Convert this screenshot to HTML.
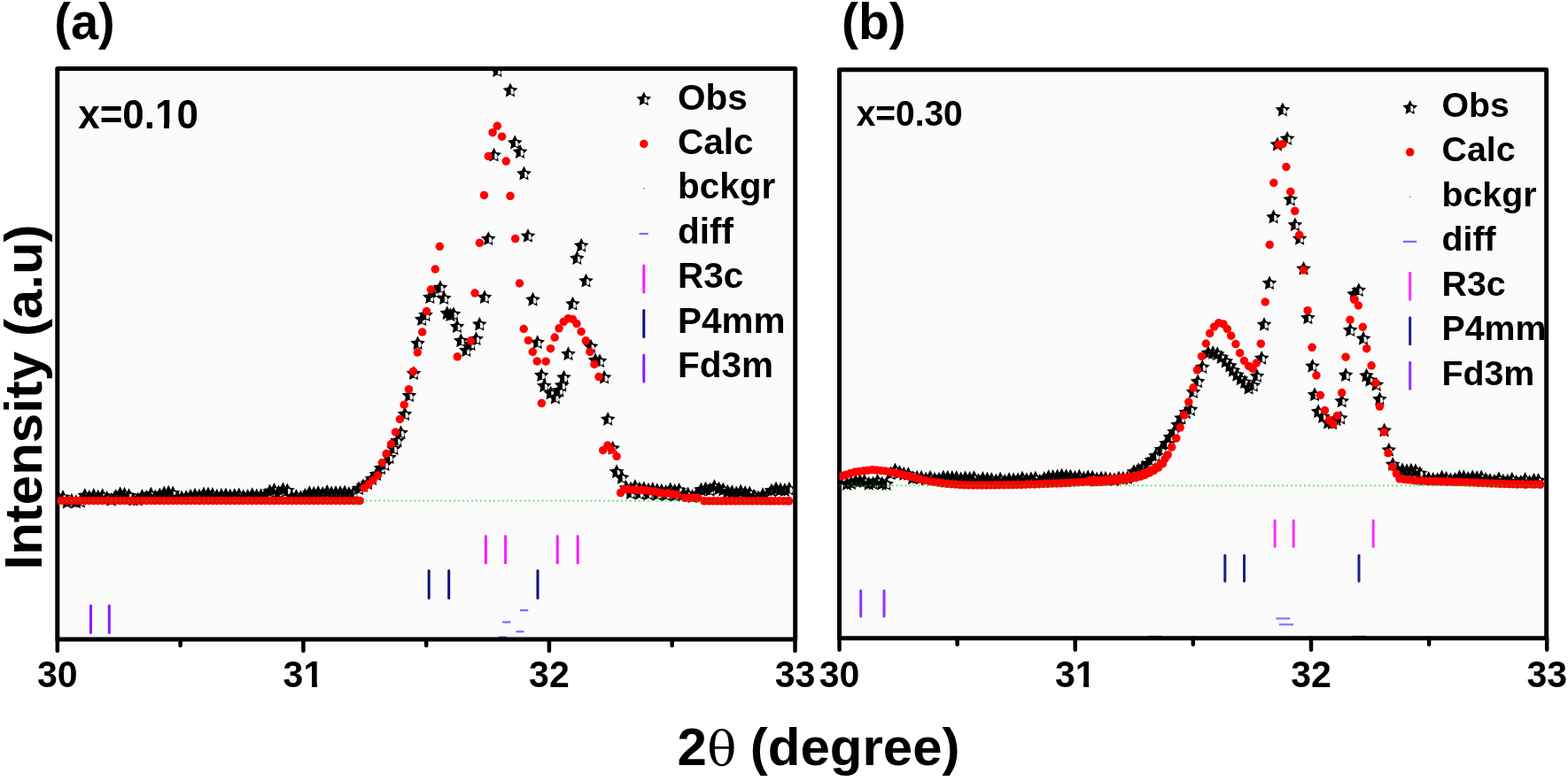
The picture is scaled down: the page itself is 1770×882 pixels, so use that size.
<!DOCTYPE html>
<html><head><meta charset="utf-8"><title>XRD refinement</title>
<style>html,body{margin:0;padding:0;background:#fff;} body{width:1770px;height:882px;overflow:hidden;} svg{display:block;}</style>
</head><body>
<svg width="1770" height="882" viewBox="0 0 1770 882">
<defs>
<path id="st" d="M0.00,-8.80 L2.59,-3.56 L8.37,-2.72 L4.18,1.36 L5.17,7.12 L0.00,4.40 L-5.17,7.12 L-4.18,1.36 L-8.37,-2.72 L-2.59,-3.56Z"/>
<path id="sl" d="M0.5,-2.3 L2.9,-2.1 L4.2,1.0 L3.3,4.4 L0.7,3.9 Z"/>
<g id="sh"><use href="#st" fill="#000"/><use href="#sl" fill="#fff" opacity="0.9"/></g>
</defs>
<rect width="1770" height="882" fill="#fff"/>
<rect x="64.8" y="77.6" width="832.9000000000001" height="644.4" fill="#fbfbfb"/>
<clipPath id="cai"><rect x="67.3" y="80.1" width="827.9000000000001" height="639.4"/></clipPath>
<clipPath id="cac"><rect x="64.8" y="77.6" width="832.9000000000001" height="644.4"/></clipPath>
<g clip-path="url(#cai)">
<use href="#sh" x="66.0" y="562.4"/>
<use href="#sh" x="71.0" y="561.7"/>
<use href="#sh" x="75.9" y="567.4"/>
<use href="#sh" x="80.9" y="565.5"/>
<use href="#sh" x="85.9" y="567.1"/>
<use href="#sh" x="90.8" y="566.5"/>
<use href="#sh" x="95.8" y="559.9"/>
<use href="#sh" x="100.8" y="561.5"/>
<use href="#sh" x="105.8" y="559.8"/>
<use href="#sh" x="110.7" y="561.3"/>
<use href="#sh" x="115.7" y="560.0"/>
<use href="#sh" x="120.7" y="562.9"/>
<use href="#sh" x="125.6" y="564.7"/>
<use href="#sh" x="130.6" y="560.7"/>
<use href="#sh" x="135.6" y="558.1"/>
<use href="#sh" x="140.5" y="558.5"/>
<use href="#sh" x="145.5" y="560.0"/>
<use href="#sh" x="150.5" y="564.5"/>
<use href="#sh" x="155.5" y="564.3"/>
<use href="#sh" x="160.4" y="560.8"/>
<use href="#sh" x="165.4" y="561.7"/>
<use href="#sh" x="170.4" y="558.4"/>
<use href="#sh" x="175.3" y="561.3"/>
<use href="#sh" x="180.3" y="559.2"/>
<use href="#sh" x="185.3" y="557.4"/>
<use href="#sh" x="190.2" y="556.6"/>
<use href="#sh" x="195.2" y="557.3"/>
<use href="#sh" x="200.2" y="562.4"/>
<use href="#sh" x="205.2" y="562.4"/>
<use href="#sh" x="210.1" y="561.8"/>
<use href="#sh" x="215.1" y="560.5"/>
<use href="#sh" x="220.1" y="559.5"/>
<use href="#sh" x="225.0" y="560.2"/>
<use href="#sh" x="230.0" y="558.4"/>
<use href="#sh" x="235.0" y="558.4"/>
<use href="#sh" x="239.9" y="558.9"/>
<use href="#sh" x="244.9" y="560.6"/>
<use href="#sh" x="249.9" y="559.7"/>
<use href="#sh" x="254.9" y="559.3"/>
<use href="#sh" x="259.8" y="560.3"/>
<use href="#sh" x="264.8" y="559.8"/>
<use href="#sh" x="269.8" y="559.3"/>
<use href="#sh" x="274.7" y="561.1"/>
<use href="#sh" x="279.7" y="560.7"/>
<use href="#sh" x="284.7" y="559.1"/>
<use href="#sh" x="289.7" y="560.3"/>
<use href="#sh" x="294.6" y="560.1"/>
<use href="#sh" x="299.6" y="559.2"/>
<use href="#sh" x="304.6" y="555.3"/>
<use href="#sh" x="309.5" y="553.7"/>
<use href="#sh" x="314.5" y="556.2"/>
<use href="#sh" x="319.5" y="553.1"/>
<use href="#sh" x="324.4" y="554.2"/>
<use href="#sh" x="329.4" y="561.5"/>
<use href="#sh" x="334.4" y="560.7"/>
<use href="#sh" x="339.4" y="562.0"/>
<use href="#sh" x="344.3" y="559.8"/>
<use href="#sh" x="349.3" y="557.1"/>
<use href="#sh" x="354.3" y="557.5"/>
<use href="#sh" x="359.2" y="556.8"/>
<use href="#sh" x="364.2" y="557.9"/>
<use href="#sh" x="369.2" y="555.8"/>
<use href="#sh" x="374.1" y="557.2"/>
<use href="#sh" x="379.1" y="556.8"/>
<use href="#sh" x="384.1" y="556.8"/>
<use href="#sh" x="389.1" y="556.3"/>
<use href="#sh" x="394.0" y="557.7"/>
<use href="#sh" x="399.0" y="556.7"/>
<use href="#sh" x="405.0" y="552.0"/>
<use href="#sh" x="410.0" y="549.0"/>
<use href="#sh" x="415.0" y="546.0"/>
<use href="#sh" x="420.0" y="541.0"/>
<use href="#sh" x="425.0" y="536.0"/>
<use href="#sh" x="430.0" y="529.0"/>
<use href="#sh" x="434.5" y="525.0"/>
<use href="#sh" x="439.5" y="517.0"/>
<use href="#sh" x="444.5" y="507.0"/>
<use href="#sh" x="448.5" y="498.0"/>
<use href="#sh" x="452.5" y="489.0"/>
<use href="#sh" x="457.0" y="468.0"/>
<use href="#sh" x="462.0" y="447.0"/>
<use href="#sh" x="467.0" y="422.0"/>
<use href="#sh" x="471.6" y="388.0"/>
<use href="#sh" x="476.2" y="361.0"/>
<use href="#sh" x="480.5" y="356.0"/>
<use href="#sh" x="485.4" y="336.0"/>
<use href="#sh" x="491.0" y="330.0"/>
<use href="#sh" x="497.0" y="325.0"/>
<use href="#sh" x="501.2" y="337.0"/>
<use href="#sh" x="504.8" y="354.0"/>
<use href="#sh" x="508.5" y="356.0"/>
<use href="#sh" x="512.0" y="355.0"/>
<use href="#sh" x="516.0" y="369.0"/>
<use href="#sh" x="520.3" y="385.0"/>
<use href="#sh" x="526.4" y="396.0"/>
<use href="#sh" x="531.5" y="389.0"/>
<use href="#sh" x="537.5" y="383.0"/>
<use href="#sh" x="541.3" y="366.5"/>
<use href="#sh" x="547.0" y="336.0"/>
<use href="#sh" x="551.3" y="270.0"/>
<use href="#sh" x="557.6" y="175.5"/>
<use href="#sh" x="561.3" y="80.0"/>
<use href="#sh" x="576.0" y="102.4"/>
<use href="#sh" x="581.2" y="161.4"/>
<use href="#sh" x="587.1" y="171.8"/>
<use href="#sh" x="591.5" y="196.4"/>
<use href="#sh" x="596.0" y="266.7"/>
<use href="#sh" x="601.5" y="338.6"/>
<use href="#sh" x="606.7" y="387.0"/>
<use href="#sh" x="611.3" y="424.0"/>
<use href="#sh" x="614.3" y="436.0"/>
<use href="#sh" x="621.7" y="444.2"/>
<use href="#sh" x="626.9" y="449.4"/>
<use href="#sh" x="631.3" y="441.3"/>
<use href="#sh" x="634.2" y="435.4"/>
<use href="#sh" x="636.5" y="426.5"/>
<use href="#sh" x="641.5" y="400.0"/>
<use href="#sh" x="646.5" y="343.5"/>
<use href="#sh" x="651.4" y="291.9"/>
<use href="#sh" x="656.2" y="277.6"/>
<use href="#sh" x="661.5" y="317.5"/>
<use href="#sh" x="667.0" y="391.6"/>
<use href="#sh" x="672.0" y="407.0"/>
<use href="#sh" x="677.0" y="408.0"/>
<use href="#sh" x="682.1" y="426.5"/>
<use href="#sh" x="686.2" y="473.7"/>
<use href="#sh" x="691.7" y="506.5"/>
<use href="#sh" x="696.1" y="533.0"/>
<use href="#sh" x="702.0" y="539.6"/>
<use href="#sh" x="707.0" y="551.4"/>
<use href="#sh" x="712.0" y="552.2"/>
<use href="#sh" x="716.9" y="549.7"/>
<use href="#sh" x="721.9" y="552.3"/>
<use href="#sh" x="726.9" y="552.1"/>
<use href="#sh" x="731.9" y="553.5"/>
<use href="#sh" x="736.8" y="552.8"/>
<use href="#sh" x="741.8" y="554.0"/>
<use href="#sh" x="746.8" y="554.5"/>
<use href="#sh" x="751.7" y="555.7"/>
<use href="#sh" x="756.7" y="553.1"/>
<use href="#sh" x="761.7" y="554.8"/>
<use href="#sh" x="766.6" y="553.7"/>
<use href="#sh" x="771.6" y="558.5"/>
<use href="#sh" x="776.6" y="558.2"/>
<use href="#sh" x="781.6" y="561.1"/>
<use href="#sh" x="786.5" y="558.5"/>
<use href="#sh" x="791.5" y="553.3"/>
<use href="#sh" x="796.5" y="552.4"/>
<use href="#sh" x="801.4" y="553.6"/>
<use href="#sh" x="806.4" y="549.9"/>
<use href="#sh" x="811.4" y="552.2"/>
<use href="#sh" x="816.3" y="553.3"/>
<use href="#sh" x="821.3" y="555.5"/>
<use href="#sh" x="826.3" y="556.0"/>
<use href="#sh" x="831.3" y="557.0"/>
<use href="#sh" x="836.2" y="555.4"/>
<use href="#sh" x="841.2" y="556.8"/>
<use href="#sh" x="846.2" y="557.3"/>
<use href="#sh" x="851.1" y="560.6"/>
<use href="#sh" x="856.1" y="562.3"/>
<use href="#sh" x="861.1" y="559.1"/>
<use href="#sh" x="866.0" y="559.2"/>
<use href="#sh" x="871.0" y="554.2"/>
<use href="#sh" x="876.0" y="552.4"/>
<use href="#sh" x="881.0" y="553.4"/>
<use href="#sh" x="885.9" y="553.9"/>
<use href="#sh" x="890.9" y="552.6"/>
<use href="#sh" x="712.0" y="557.0"/>
<use href="#sh" x="722.0" y="557.5"/>
<use href="#sh" x="732.0" y="558.0"/>
<use href="#sh" x="742.0" y="558.5"/>
<use href="#sh" x="752.0" y="559.0"/>
<use href="#sh" x="762.0" y="559.5"/>
</g>
<line x1="548.4" y1="605.5" x2="548.4" y2="635.7" stroke="#ff19ff" stroke-width="3" stroke-linecap="round"/>
<line x1="570.6" y1="605.5" x2="570.6" y2="635.7" stroke="#ff19ff" stroke-width="3" stroke-linecap="round"/>
<line x1="629.2" y1="605.5" x2="629.2" y2="635.7" stroke="#ff19ff" stroke-width="3" stroke-linecap="round"/>
<line x1="652.2" y1="605.5" x2="652.2" y2="635.7" stroke="#ff19ff" stroke-width="3" stroke-linecap="round"/>
<line x1="484.2" y1="644.6" x2="484.2" y2="675.5" stroke="#10107f" stroke-width="3" stroke-linecap="round"/>
<line x1="506.7" y1="644.6" x2="506.7" y2="675.5" stroke="#10107f" stroke-width="3" stroke-linecap="round"/>
<line x1="607" y1="644.6" x2="607" y2="675.5" stroke="#10107f" stroke-width="3" stroke-linecap="round"/>
<line x1="102.5" y1="684" x2="102.5" y2="714.5" stroke="#8a1aff" stroke-width="3" stroke-linecap="round"/>
<line x1="123.3" y1="684" x2="123.3" y2="714.5" stroke="#8a1aff" stroke-width="3" stroke-linecap="round"/>
<line x1="587.1" y1="689.2" x2="596.3" y2="689.2" stroke="#6f6fff" stroke-width="2.2"/>
<line x1="567.2" y1="702.6" x2="576.4" y2="702.6" stroke="#6f6fff" stroke-width="2.2"/>
<line x1="582.5" y1="713.3" x2="591.7" y2="713.3" stroke="#6f6fff" stroke-width="2.2"/>
<line x1="562.6" y1="719.5" x2="571.8" y2="719.5" stroke="#6f6fff" stroke-width="2.2"/>
<rect x="64.8" y="77.6" width="832.9000000000001" height="644.4" fill="none" stroke="#000" stroke-width="5" stroke-linejoin="round"/>
<g clip-path="url(#cac)">
<g fill="#ff0000">
<circle cx="66.0" cy="565.5" r="4.75"/>
<circle cx="71.0" cy="565.5" r="4.75"/>
<circle cx="75.9" cy="565.5" r="4.75"/>
<circle cx="80.9" cy="565.5" r="4.75"/>
<circle cx="85.9" cy="565.5" r="4.75"/>
<circle cx="90.8" cy="565.5" r="4.75"/>
<circle cx="95.8" cy="565.5" r="4.75"/>
<circle cx="100.8" cy="565.5" r="4.75"/>
<circle cx="105.8" cy="565.5" r="4.75"/>
<circle cx="110.7" cy="565.5" r="4.75"/>
<circle cx="115.7" cy="565.5" r="4.75"/>
<circle cx="120.7" cy="565.5" r="4.75"/>
<circle cx="125.6" cy="565.5" r="4.75"/>
<circle cx="130.6" cy="565.5" r="4.75"/>
<circle cx="135.6" cy="565.5" r="4.75"/>
<circle cx="140.5" cy="565.5" r="4.75"/>
<circle cx="145.5" cy="565.5" r="4.75"/>
<circle cx="150.5" cy="565.5" r="4.75"/>
<circle cx="155.5" cy="565.5" r="4.75"/>
<circle cx="160.4" cy="565.5" r="4.75"/>
<circle cx="165.4" cy="565.5" r="4.75"/>
<circle cx="170.4" cy="565.5" r="4.75"/>
<circle cx="175.3" cy="565.5" r="4.75"/>
<circle cx="180.3" cy="565.5" r="4.75"/>
<circle cx="185.3" cy="565.5" r="4.75"/>
<circle cx="190.2" cy="565.5" r="4.75"/>
<circle cx="195.2" cy="565.5" r="4.75"/>
<circle cx="200.2" cy="565.5" r="4.75"/>
<circle cx="205.2" cy="565.5" r="4.75"/>
<circle cx="210.1" cy="565.5" r="4.75"/>
<circle cx="215.1" cy="565.5" r="4.75"/>
<circle cx="220.1" cy="565.5" r="4.75"/>
<circle cx="225.0" cy="565.5" r="4.75"/>
<circle cx="230.0" cy="565.5" r="4.75"/>
<circle cx="235.0" cy="565.5" r="4.75"/>
<circle cx="239.9" cy="565.5" r="4.75"/>
<circle cx="244.9" cy="565.5" r="4.75"/>
<circle cx="249.9" cy="565.5" r="4.75"/>
<circle cx="254.9" cy="565.5" r="4.75"/>
<circle cx="259.8" cy="565.5" r="4.75"/>
<circle cx="264.8" cy="565.5" r="4.75"/>
<circle cx="269.8" cy="565.5" r="4.75"/>
<circle cx="274.7" cy="565.5" r="4.75"/>
<circle cx="279.7" cy="565.5" r="4.75"/>
<circle cx="284.7" cy="565.5" r="4.75"/>
<circle cx="289.7" cy="565.5" r="4.75"/>
<circle cx="294.6" cy="565.5" r="4.75"/>
<circle cx="299.6" cy="565.5" r="4.75"/>
<circle cx="304.6" cy="565.5" r="4.75"/>
<circle cx="309.5" cy="565.5" r="4.75"/>
<circle cx="314.5" cy="565.5" r="4.75"/>
<circle cx="319.5" cy="565.5" r="4.75"/>
<circle cx="324.4" cy="565.5" r="4.75"/>
<circle cx="329.4" cy="565.5" r="4.75"/>
<circle cx="334.4" cy="565.5" r="4.75"/>
<circle cx="339.4" cy="565.5" r="4.75"/>
<circle cx="344.3" cy="565.5" r="4.75"/>
<circle cx="349.3" cy="565.5" r="4.75"/>
<circle cx="354.3" cy="565.5" r="4.75"/>
<circle cx="359.2" cy="565.5" r="4.75"/>
<circle cx="364.2" cy="565.5" r="4.75"/>
<circle cx="369.2" cy="565.5" r="4.75"/>
<circle cx="374.1" cy="565.5" r="4.75"/>
<circle cx="379.1" cy="565.5" r="4.75"/>
<circle cx="384.1" cy="565.5" r="4.75"/>
<circle cx="389.1" cy="565.5" r="4.75"/>
<circle cx="394.0" cy="565.5" r="4.75"/>
<circle cx="399.0" cy="565.5" r="4.75"/>
<circle cx="404.0" cy="565.5" r="4.75"/>
<circle cx="406.3" cy="565.5" r="4.75"/>
<circle cx="411.0" cy="551.0" r="4.75"/>
<circle cx="416.0" cy="547.0" r="4.75"/>
<circle cx="421.0" cy="542.5" r="4.75"/>
<circle cx="426.3" cy="537.0" r="4.75"/>
<circle cx="431.4" cy="522.4" r="4.75"/>
<circle cx="436.2" cy="512.3" r="4.75"/>
<circle cx="441.5" cy="501.5" r="4.75"/>
<circle cx="446.5" cy="488.0" r="4.75"/>
<circle cx="451.4" cy="473.4" r="4.75"/>
<circle cx="456.2" cy="457.2" r="4.75"/>
<circle cx="461.5" cy="439.7" r="4.75"/>
<circle cx="466.5" cy="419.4" r="4.75"/>
<circle cx="471.3" cy="398.0" r="4.75"/>
<circle cx="476.7" cy="375.0" r="4.75"/>
<circle cx="481.5" cy="351.5" r="4.75"/>
<circle cx="486.4" cy="327.0" r="4.75"/>
<circle cx="491.3" cy="304.0" r="4.75"/>
<circle cx="496.3" cy="278.3" r="4.75"/>
<circle cx="516.3" cy="402.8" r="4.75"/>
<circle cx="531.4" cy="385.0" r="4.75"/>
<circle cx="536.1" cy="331.0" r="4.75"/>
<circle cx="541.4" cy="274.3" r="4.75"/>
<circle cx="546.5" cy="220.5" r="4.75"/>
<circle cx="551.3" cy="176.5" r="4.75"/>
<circle cx="556.1" cy="149.7" r="4.75"/>
<circle cx="561.3" cy="142.3" r="4.75"/>
<circle cx="566.6" cy="154.2" r="4.75"/>
<circle cx="571.3" cy="182.1" r="4.75"/>
<circle cx="576.0" cy="221.3" r="4.75"/>
<circle cx="581.7" cy="269.6" r="4.75"/>
<circle cx="586.5" cy="320.0" r="4.75"/>
<circle cx="591.2" cy="371.5" r="4.75"/>
<circle cx="596.4" cy="384.4" r="4.75"/>
<circle cx="601.3" cy="397.3" r="4.75"/>
<circle cx="606.3" cy="408.0" r="4.75"/>
<circle cx="611.4" cy="455.3" r="4.75"/>
<circle cx="616.2" cy="408.2" r="4.75"/>
<circle cx="621.5" cy="393.7" r="4.75"/>
<circle cx="626.2" cy="381.1" r="4.75"/>
<circle cx="631.0" cy="370.8" r="4.75"/>
<circle cx="636.2" cy="363.4" r="4.75"/>
<circle cx="641.4" cy="359.7" r="4.75"/>
<circle cx="646.5" cy="360.5" r="4.75"/>
<circle cx="651.0" cy="365.6" r="4.75"/>
<circle cx="656.1" cy="374.5" r="4.75"/>
<circle cx="661.3" cy="384.8" r="4.75"/>
<circle cx="666.0" cy="397.3" r="4.75"/>
<circle cx="670.9" cy="411.4" r="4.75"/>
<circle cx="676.0" cy="425.6" r="4.75"/>
<circle cx="680.7" cy="508.5" r="4.75"/>
<circle cx="685.9" cy="503.0" r="4.75"/>
<circle cx="690.2" cy="508.0" r="4.75"/>
<circle cx="696.1" cy="515.3" r="4.75"/>
<circle cx="700.6" cy="556.6" r="4.75"/>
<circle cx="704.5" cy="552.6" r="4.75"/>
<circle cx="709.5" cy="552.3" r="4.75"/>
<circle cx="714.4" cy="553.2" r="4.75"/>
<circle cx="719.4" cy="553.4" r="4.75"/>
<circle cx="724.4" cy="553.4" r="4.75"/>
<circle cx="729.4" cy="553.8" r="4.75"/>
<circle cx="734.3" cy="554.7" r="4.75"/>
<circle cx="739.3" cy="555.1" r="4.75"/>
<circle cx="744.3" cy="556.3" r="4.75"/>
<circle cx="749.2" cy="557.2" r="4.75"/>
<circle cx="754.2" cy="556.8" r="4.75"/>
<circle cx="759.2" cy="558.1" r="4.75"/>
<circle cx="764.1" cy="558.6" r="4.75"/>
<circle cx="773.0" cy="562.3" r="4.75"/>
<circle cx="778.0" cy="562.3" r="4.75"/>
<circle cx="782.9" cy="562.3" r="4.75"/>
<circle cx="787.9" cy="562.3" r="4.75"/>
<circle cx="795.0" cy="565.8" r="4.75"/>
<circle cx="800.0" cy="565.8" r="4.75"/>
<circle cx="804.9" cy="565.8" r="4.75"/>
<circle cx="809.9" cy="565.8" r="4.75"/>
<circle cx="814.9" cy="565.8" r="4.75"/>
<circle cx="819.9" cy="565.8" r="4.75"/>
<circle cx="824.8" cy="565.8" r="4.75"/>
<circle cx="829.8" cy="565.8" r="4.75"/>
<circle cx="834.8" cy="565.8" r="4.75"/>
<circle cx="839.7" cy="565.8" r="4.75"/>
<circle cx="844.7" cy="565.8" r="4.75"/>
<circle cx="849.7" cy="565.8" r="4.75"/>
<circle cx="854.6" cy="565.8" r="4.75"/>
<circle cx="859.6" cy="565.8" r="4.75"/>
<circle cx="864.6" cy="565.8" r="4.75"/>
<circle cx="869.6" cy="565.8" r="4.75"/>
<circle cx="874.5" cy="565.8" r="4.75"/>
<circle cx="879.5" cy="565.8" r="4.75"/>
<circle cx="884.5" cy="565.8" r="4.75"/>
<circle cx="889.4" cy="565.8" r="4.75"/>
<circle cx="890.6" cy="565.8" r="4.75"/>
</g>
<g fill="#00c800" fill-opacity="0.55">
<circle cx="65.8" cy="565.6" r="1.15"/>
<circle cx="70.8" cy="565.6" r="1.15"/>
<circle cx="75.7" cy="565.6" r="1.15"/>
<circle cx="80.7" cy="565.6" r="1.15"/>
<circle cx="85.7" cy="565.6" r="1.15"/>
<circle cx="90.6" cy="565.6" r="1.15"/>
<circle cx="95.6" cy="565.6" r="1.15"/>
<circle cx="100.6" cy="565.6" r="1.15"/>
<circle cx="105.6" cy="565.6" r="1.15"/>
<circle cx="110.5" cy="565.6" r="1.15"/>
<circle cx="115.5" cy="565.6" r="1.15"/>
<circle cx="120.5" cy="565.6" r="1.15"/>
<circle cx="125.4" cy="565.6" r="1.15"/>
<circle cx="130.4" cy="565.6" r="1.15"/>
<circle cx="135.4" cy="565.6" r="1.15"/>
<circle cx="140.3" cy="565.6" r="1.15"/>
<circle cx="145.3" cy="565.6" r="1.15"/>
<circle cx="150.3" cy="565.6" r="1.15"/>
<circle cx="155.3" cy="565.6" r="1.15"/>
<circle cx="160.2" cy="565.6" r="1.15"/>
<circle cx="165.2" cy="565.6" r="1.15"/>
<circle cx="170.2" cy="565.6" r="1.15"/>
<circle cx="175.1" cy="565.6" r="1.15"/>
<circle cx="180.1" cy="565.6" r="1.15"/>
<circle cx="185.1" cy="565.6" r="1.15"/>
<circle cx="190.0" cy="565.6" r="1.15"/>
<circle cx="195.0" cy="565.6" r="1.15"/>
<circle cx="200.0" cy="565.6" r="1.15"/>
<circle cx="205.0" cy="565.6" r="1.15"/>
<circle cx="209.9" cy="565.6" r="1.15"/>
<circle cx="214.9" cy="565.6" r="1.15"/>
<circle cx="219.9" cy="565.6" r="1.15"/>
<circle cx="224.8" cy="565.6" r="1.15"/>
<circle cx="229.8" cy="565.6" r="1.15"/>
<circle cx="234.8" cy="565.6" r="1.15"/>
<circle cx="239.7" cy="565.6" r="1.15"/>
<circle cx="244.7" cy="565.6" r="1.15"/>
<circle cx="249.7" cy="565.6" r="1.15"/>
<circle cx="254.7" cy="565.6" r="1.15"/>
<circle cx="259.6" cy="565.6" r="1.15"/>
<circle cx="264.6" cy="565.6" r="1.15"/>
<circle cx="269.6" cy="565.6" r="1.15"/>
<circle cx="274.5" cy="565.6" r="1.15"/>
<circle cx="279.5" cy="565.6" r="1.15"/>
<circle cx="284.5" cy="565.6" r="1.15"/>
<circle cx="289.5" cy="565.6" r="1.15"/>
<circle cx="294.4" cy="565.6" r="1.15"/>
<circle cx="299.4" cy="565.6" r="1.15"/>
<circle cx="304.4" cy="565.6" r="1.15"/>
<circle cx="309.3" cy="565.6" r="1.15"/>
<circle cx="314.3" cy="565.6" r="1.15"/>
<circle cx="319.3" cy="565.6" r="1.15"/>
<circle cx="324.2" cy="565.6" r="1.15"/>
<circle cx="329.2" cy="565.6" r="1.15"/>
<circle cx="334.2" cy="565.6" r="1.15"/>
<circle cx="339.2" cy="565.6" r="1.15"/>
<circle cx="344.1" cy="565.6" r="1.15"/>
<circle cx="349.1" cy="565.6" r="1.15"/>
<circle cx="354.1" cy="565.6" r="1.15"/>
<circle cx="359.0" cy="565.6" r="1.15"/>
<circle cx="364.0" cy="565.6" r="1.15"/>
<circle cx="369.0" cy="565.6" r="1.15"/>
<circle cx="373.9" cy="565.6" r="1.15"/>
<circle cx="378.9" cy="565.6" r="1.15"/>
<circle cx="383.9" cy="565.6" r="1.15"/>
<circle cx="388.9" cy="565.6" r="1.15"/>
<circle cx="393.8" cy="565.6" r="1.15"/>
<circle cx="398.8" cy="565.6" r="1.15"/>
<circle cx="403.8" cy="565.6" r="1.15"/>
<circle cx="408.7" cy="565.6" r="1.15"/>
<circle cx="413.7" cy="565.6" r="1.15"/>
<circle cx="418.7" cy="565.6" r="1.15"/>
<circle cx="423.6" cy="565.6" r="1.15"/>
<circle cx="428.6" cy="565.6" r="1.15"/>
<circle cx="433.6" cy="565.6" r="1.15"/>
<circle cx="438.6" cy="565.6" r="1.15"/>
<circle cx="443.5" cy="565.6" r="1.15"/>
<circle cx="448.5" cy="565.6" r="1.15"/>
<circle cx="453.5" cy="565.6" r="1.15"/>
<circle cx="458.4" cy="565.6" r="1.15"/>
<circle cx="463.4" cy="565.6" r="1.15"/>
<circle cx="468.4" cy="565.6" r="1.15"/>
<circle cx="473.3" cy="565.6" r="1.15"/>
<circle cx="478.3" cy="565.6" r="1.15"/>
<circle cx="483.3" cy="565.6" r="1.15"/>
<circle cx="488.3" cy="565.6" r="1.15"/>
<circle cx="493.2" cy="565.6" r="1.15"/>
<circle cx="498.2" cy="565.6" r="1.15"/>
<circle cx="503.2" cy="565.6" r="1.15"/>
<circle cx="508.1" cy="565.6" r="1.15"/>
<circle cx="513.1" cy="565.6" r="1.15"/>
<circle cx="518.1" cy="565.6" r="1.15"/>
<circle cx="523.0" cy="565.6" r="1.15"/>
<circle cx="528.0" cy="565.6" r="1.15"/>
<circle cx="533.0" cy="565.6" r="1.15"/>
<circle cx="538.0" cy="565.6" r="1.15"/>
<circle cx="542.9" cy="565.6" r="1.15"/>
<circle cx="547.9" cy="565.6" r="1.15"/>
<circle cx="552.9" cy="565.6" r="1.15"/>
<circle cx="557.8" cy="565.6" r="1.15"/>
<circle cx="562.8" cy="565.6" r="1.15"/>
<circle cx="567.8" cy="565.6" r="1.15"/>
<circle cx="572.7" cy="565.6" r="1.15"/>
<circle cx="577.7" cy="565.6" r="1.15"/>
<circle cx="582.7" cy="565.6" r="1.15"/>
<circle cx="587.7" cy="565.6" r="1.15"/>
<circle cx="592.6" cy="565.6" r="1.15"/>
<circle cx="597.6" cy="565.6" r="1.15"/>
<circle cx="602.6" cy="565.6" r="1.15"/>
<circle cx="607.5" cy="565.6" r="1.15"/>
<circle cx="612.5" cy="565.6" r="1.15"/>
<circle cx="617.5" cy="565.6" r="1.15"/>
<circle cx="622.4" cy="565.6" r="1.15"/>
<circle cx="627.4" cy="565.6" r="1.15"/>
<circle cx="632.4" cy="565.6" r="1.15"/>
<circle cx="637.4" cy="565.6" r="1.15"/>
<circle cx="642.3" cy="565.6" r="1.15"/>
<circle cx="647.3" cy="565.6" r="1.15"/>
<circle cx="652.3" cy="565.6" r="1.15"/>
<circle cx="657.2" cy="565.6" r="1.15"/>
<circle cx="662.2" cy="565.6" r="1.15"/>
<circle cx="667.2" cy="565.6" r="1.15"/>
<circle cx="672.1" cy="565.6" r="1.15"/>
<circle cx="677.1" cy="565.6" r="1.15"/>
<circle cx="682.1" cy="565.6" r="1.15"/>
<circle cx="687.1" cy="565.6" r="1.15"/>
<circle cx="692.0" cy="565.6" r="1.15"/>
<circle cx="697.0" cy="565.6" r="1.15"/>
<circle cx="702.0" cy="565.6" r="1.15"/>
<circle cx="706.9" cy="565.6" r="1.15"/>
<circle cx="711.9" cy="565.6" r="1.15"/>
<circle cx="716.9" cy="565.6" r="1.15"/>
<circle cx="721.8" cy="565.6" r="1.15"/>
<circle cx="726.8" cy="565.6" r="1.15"/>
<circle cx="731.8" cy="565.6" r="1.15"/>
<circle cx="736.8" cy="565.6" r="1.15"/>
<circle cx="741.7" cy="565.6" r="1.15"/>
<circle cx="746.7" cy="565.6" r="1.15"/>
<circle cx="751.7" cy="565.6" r="1.15"/>
<circle cx="756.6" cy="565.6" r="1.15"/>
<circle cx="761.6" cy="565.6" r="1.15"/>
<circle cx="766.6" cy="565.6" r="1.15"/>
<circle cx="771.5" cy="565.6" r="1.15"/>
<circle cx="776.5" cy="565.6" r="1.15"/>
<circle cx="781.5" cy="565.6" r="1.15"/>
<circle cx="786.5" cy="565.6" r="1.15"/>
<circle cx="791.4" cy="565.6" r="1.15"/>
<circle cx="796.4" cy="565.6" r="1.15"/>
<circle cx="801.4" cy="565.6" r="1.15"/>
<circle cx="806.3" cy="565.6" r="1.15"/>
<circle cx="811.3" cy="565.6" r="1.15"/>
<circle cx="816.3" cy="565.6" r="1.15"/>
<circle cx="821.2" cy="565.6" r="1.15"/>
<circle cx="826.2" cy="565.6" r="1.15"/>
<circle cx="831.2" cy="565.6" r="1.15"/>
<circle cx="836.2" cy="565.6" r="1.15"/>
<circle cx="841.1" cy="565.6" r="1.15"/>
<circle cx="846.1" cy="565.6" r="1.15"/>
<circle cx="851.1" cy="565.6" r="1.15"/>
<circle cx="856.0" cy="565.6" r="1.15"/>
<circle cx="861.0" cy="565.6" r="1.15"/>
<circle cx="866.0" cy="565.6" r="1.15"/>
<circle cx="870.9" cy="565.6" r="1.15"/>
<circle cx="875.9" cy="565.6" r="1.15"/>
<circle cx="880.9" cy="565.6" r="1.15"/>
<circle cx="885.9" cy="565.6" r="1.15"/>
<circle cx="890.8" cy="565.6" r="1.15"/>
</g>
</g>
<rect x="947.5" y="78.8" width="798.2" height="642.0" fill="#fbfbfb"/>
<clipPath id="cbi"><rect x="950.0" y="81.3" width="793.2" height="637.0"/></clipPath>
<clipPath id="cbc"><rect x="947.5" y="78.8" width="798.2" height="642.0"/></clipPath>
<g clip-path="url(#cbi)">
<use href="#sh" x="951.0" y="540.6"/>
<use href="#sh" x="956.0" y="546.8"/>
<use href="#sh" x="960.9" y="545.9"/>
<use href="#sh" x="965.9" y="543.7"/>
<use href="#sh" x="970.8" y="543.5"/>
<use href="#sh" x="975.8" y="543.6"/>
<use href="#sh" x="980.7" y="546.6"/>
<use href="#sh" x="985.7" y="546.2"/>
<use href="#sh" x="990.6" y="543.6"/>
<use href="#sh" x="995.6" y="546.3"/>
<use href="#sh" x="1000.5" y="546.9"/>
<use href="#sh" x="1005.5" y="535.0"/>
<use href="#sh" x="1010.4" y="531.4"/>
<use href="#sh" x="1015.4" y="533.9"/>
<use href="#sh" x="1020.3" y="535.6"/>
<use href="#sh" x="1025.3" y="535.7"/>
<use href="#sh" x="1030.2" y="540.2"/>
<use href="#sh" x="1035.2" y="539.5"/>
<use href="#sh" x="1040.1" y="539.6"/>
<use href="#sh" x="1045.1" y="541.4"/>
<use href="#sh" x="1050.0" y="539.6"/>
<use href="#sh" x="1055.0" y="541.5"/>
<use href="#sh" x="1059.9" y="541.5"/>
<use href="#sh" x="1064.9" y="539.2"/>
<use href="#sh" x="1069.8" y="539.5"/>
<use href="#sh" x="1074.8" y="539.8"/>
<use href="#sh" x="1079.7" y="539.8"/>
<use href="#sh" x="1084.7" y="541.3"/>
<use href="#sh" x="1089.6" y="540.1"/>
<use href="#sh" x="1094.6" y="540.8"/>
<use href="#sh" x="1099.5" y="539.8"/>
<use href="#sh" x="1104.5" y="543.0"/>
<use href="#sh" x="1109.4" y="540.8"/>
<use href="#sh" x="1114.4" y="541.3"/>
<use href="#sh" x="1119.3" y="541.9"/>
<use href="#sh" x="1124.3" y="543.3"/>
<use href="#sh" x="1129.2" y="541.4"/>
<use href="#sh" x="1134.2" y="543.5"/>
<use href="#sh" x="1139.1" y="541.9"/>
<use href="#sh" x="1144.1" y="542.1"/>
<use href="#sh" x="1149.0" y="542.1"/>
<use href="#sh" x="1154.0" y="540.2"/>
<use href="#sh" x="1158.9" y="542.0"/>
<use href="#sh" x="1163.9" y="541.0"/>
<use href="#sh" x="1168.8" y="540.4"/>
<use href="#sh" x="1173.8" y="543.6"/>
<use href="#sh" x="1178.7" y="540.7"/>
<use href="#sh" x="1183.7" y="538.8"/>
<use href="#sh" x="1188.6" y="538.9"/>
<use href="#sh" x="1193.6" y="538.2"/>
<use href="#sh" x="1198.5" y="537.3"/>
<use href="#sh" x="1203.5" y="538.1"/>
<use href="#sh" x="1208.4" y="538.2"/>
<use href="#sh" x="1213.4" y="539.6"/>
<use href="#sh" x="1218.3" y="538.4"/>
<use href="#sh" x="1223.3" y="540.3"/>
<use href="#sh" x="1228.2" y="539.1"/>
<use href="#sh" x="1233.2" y="539.3"/>
<use href="#sh" x="1238.1" y="541.3"/>
<use href="#sh" x="1243.1" y="540.3"/>
<use href="#sh" x="1248.0" y="540.6"/>
<use href="#sh" x="1253.0" y="541.5"/>
<use href="#sh" x="1257.9" y="542.1"/>
<use href="#sh" x="1262.9" y="540.2"/>
<use href="#sh" x="1267.8" y="540.6"/>
<use href="#sh" x="1272.8" y="540.0"/>
<use href="#sh" x="1280.0" y="533.0"/>
<use href="#sh" x="1285.0" y="531.0"/>
<use href="#sh" x="1290.0" y="528.0"/>
<use href="#sh" x="1295.8" y="524.0"/>
<use href="#sh" x="1300.0" y="520.0"/>
<use href="#sh" x="1304.5" y="515.0"/>
<use href="#sh" x="1311.0" y="508.0"/>
<use href="#sh" x="1316.5" y="501.0"/>
<use href="#sh" x="1321.0" y="494.0"/>
<use href="#sh" x="1325.5" y="488.0"/>
<use href="#sh" x="1329.5" y="480.0"/>
<use href="#sh" x="1333.5" y="472.5"/>
<use href="#sh" x="1338.8" y="466.0"/>
<use href="#sh" x="1344.0" y="462.8"/>
<use href="#sh" x="1347.0" y="442.9"/>
<use href="#sh" x="1352.1" y="431.1"/>
<use href="#sh" x="1357.3" y="414.9"/>
<use href="#sh" x="1363.9" y="398.7"/>
<use href="#sh" x="1369.1" y="398.7"/>
<use href="#sh" x="1374.2" y="400.1"/>
<use href="#sh" x="1378.7" y="403.8"/>
<use href="#sh" x="1383.8" y="408.3"/>
<use href="#sh" x="1388.3" y="413.4"/>
<use href="#sh" x="1391.9" y="418.6"/>
<use href="#sh" x="1396.4" y="423.7"/>
<use href="#sh" x="1400.8" y="428.2"/>
<use href="#sh" x="1405.2" y="431.9"/>
<use href="#sh" x="1409.6" y="438.5"/>
<use href="#sh" x="1414.8" y="435.5"/>
<use href="#sh" x="1419.0" y="425.0"/>
<use href="#sh" x="1424.2" y="404.7"/>
<use href="#sh" x="1427.0" y="366.7"/>
<use href="#sh" x="1433.0" y="320.0"/>
<use href="#sh" x="1437.6" y="245.4"/>
<use href="#sh" x="1442.0" y="163.4"/>
<use href="#sh" x="1447.9" y="124.3"/>
<use href="#sh" x="1453.1" y="156.8"/>
<use href="#sh" x="1456.8" y="225.5"/>
<use href="#sh" x="1461.9" y="254.2"/>
<use href="#sh" x="1467.1" y="269.7"/>
<use href="#sh" x="1471.5" y="303.7"/>
<use href="#sh" x="1476.4" y="359.1"/>
<use href="#sh" x="1481.5" y="413.7"/>
<use href="#sh" x="1484.0" y="446.0"/>
<use href="#sh" x="1488.1" y="465.0"/>
<use href="#sh" x="1493.3" y="470.9"/>
<use href="#sh" x="1499.2" y="477.5"/>
<use href="#sh" x="1504.0" y="478.0"/>
<use href="#sh" x="1508.5" y="474.0"/>
<use href="#sh" x="1513.2" y="472.4"/>
<use href="#sh" x="1514.7" y="453.2"/>
<use href="#sh" x="1519.1" y="423.8"/>
<use href="#sh" x="1524.2" y="373.0"/>
<use href="#sh" x="1528.7" y="332.4"/>
<use href="#sh" x="1533.8" y="328.0"/>
<use href="#sh" x="1539.0" y="382.6"/>
<use href="#sh" x="1542.5" y="424.5"/>
<use href="#sh" x="1546.4" y="429.6"/>
<use href="#sh" x="1553.7" y="434.7"/>
<use href="#sh" x="1557.4" y="451.0"/>
<use href="#sh" x="1562.6" y="486.4"/>
<use href="#sh" x="1567.8" y="508.5"/>
<use href="#sh" x="1572.2" y="524.7"/>
<use href="#sh" x="1578.1" y="532.1"/>
<use href="#sh" x="1583.0" y="531.0"/>
<use href="#sh" x="1588.0" y="532.1"/>
<use href="#sh" x="1592.9" y="531.4"/>
<use href="#sh" x="1597.9" y="532.0"/>
<use href="#sh" x="1602.8" y="534.7"/>
<use href="#sh" x="1607.8" y="541.5"/>
<use href="#sh" x="1612.7" y="540.9"/>
<use href="#sh" x="1617.7" y="541.7"/>
<use href="#sh" x="1622.6" y="542.0"/>
<use href="#sh" x="1627.6" y="539.3"/>
<use href="#sh" x="1632.5" y="540.6"/>
<use href="#sh" x="1637.5" y="542.2"/>
<use href="#sh" x="1642.4" y="541.9"/>
<use href="#sh" x="1647.4" y="539.1"/>
<use href="#sh" x="1652.3" y="539.1"/>
<use href="#sh" x="1657.3" y="540.5"/>
<use href="#sh" x="1662.2" y="539.1"/>
<use href="#sh" x="1667.2" y="539.8"/>
<use href="#sh" x="1672.1" y="539.2"/>
<use href="#sh" x="1677.1" y="541.8"/>
<use href="#sh" x="1682.0" y="542.7"/>
<use href="#sh" x="1687.0" y="543.5"/>
<use href="#sh" x="1691.9" y="541.0"/>
<use href="#sh" x="1696.9" y="543.6"/>
<use href="#sh" x="1701.8" y="543.6"/>
<use href="#sh" x="1706.8" y="541.6"/>
<use href="#sh" x="1711.7" y="544.5"/>
<use href="#sh" x="1716.7" y="544.9"/>
<use href="#sh" x="1721.6" y="541.9"/>
<use href="#sh" x="1726.6" y="544.8"/>
<use href="#sh" x="1731.5" y="542.6"/>
<use href="#sh" x="1736.5" y="542.9"/>
</g>
<line x1="1439.1" y1="587.7" x2="1439.1" y2="617.3" stroke="#ff2eff" stroke-width="3" stroke-linecap="round"/>
<line x1="1460.2" y1="587.7" x2="1460.2" y2="617.3" stroke="#ff2eff" stroke-width="3" stroke-linecap="round"/>
<line x1="1550.2" y1="587.7" x2="1550.2" y2="617.3" stroke="#ff2eff" stroke-width="3" stroke-linecap="round"/>
<line x1="1382.8" y1="627.2" x2="1382.8" y2="656.3" stroke="#1e1e8c" stroke-width="3" stroke-linecap="round"/>
<line x1="1404.5" y1="627.2" x2="1404.5" y2="656.3" stroke="#1e1e8c" stroke-width="3" stroke-linecap="round"/>
<line x1="1534" y1="627.2" x2="1534" y2="656.3" stroke="#1e1e8c" stroke-width="3" stroke-linecap="round"/>
<line x1="971.7" y1="666.9" x2="971.7" y2="695.9" stroke="#8c33ff" stroke-width="3" stroke-linecap="round"/>
<line x1="998" y1="666.9" x2="998" y2="695.9" stroke="#8c33ff" stroke-width="3" stroke-linecap="round"/>
<line x1="1440.4" y1="698.5" x2="1456.2" y2="698.5" stroke="#7a7aff" stroke-width="2.2"/>
<line x1="1443.8" y1="705.3" x2="1460" y2="705.3" stroke="#7a7aff" stroke-width="2.2"/>
<line x1="1295.8" y1="719.0" x2="1311.6" y2="719.0" stroke="#2020c0" stroke-width="2.2"/>
<line x1="1526" y1="719.0" x2="1542" y2="719.0" stroke="#2020c0" stroke-width="2.2"/>
<rect x="947.5" y="78.8" width="798.2" height="642.0" fill="none" stroke="#000" stroke-width="5" stroke-linejoin="round"/>
<g clip-path="url(#cbc)">
<g fill="#ff0000">
<circle cx="950.0" cy="537.9" r="4.75"/>
<circle cx="955.0" cy="536.3" r="4.75"/>
<circle cx="959.9" cy="534.6" r="4.75"/>
<circle cx="964.9" cy="533.0" r="4.75"/>
<circle cx="969.8" cy="532.4" r="4.75"/>
<circle cx="974.8" cy="531.8" r="4.75"/>
<circle cx="979.7" cy="531.2" r="4.75"/>
<circle cx="984.7" cy="530.6" r="4.75"/>
<circle cx="989.6" cy="531.0" r="4.75"/>
<circle cx="994.6" cy="531.5" r="4.75"/>
<circle cx="999.5" cy="532.0" r="4.75"/>
<circle cx="1004.5" cy="532.9" r="4.75"/>
<circle cx="1009.4" cy="533.9" r="4.75"/>
<circle cx="1014.4" cy="534.9" r="4.75"/>
<circle cx="1019.3" cy="536.1" r="4.75"/>
<circle cx="1024.3" cy="537.3" r="4.75"/>
<circle cx="1029.2" cy="538.6" r="4.75"/>
<circle cx="1034.2" cy="539.9" r="4.75"/>
<circle cx="1039.1" cy="541.2" r="4.75"/>
<circle cx="1044.1" cy="542.5" r="4.75"/>
<circle cx="1049.0" cy="543.4" r="4.75"/>
<circle cx="1054.0" cy="544.2" r="4.75"/>
<circle cx="1058.9" cy="545.0" r="4.75"/>
<circle cx="1063.9" cy="545.8" r="4.75"/>
<circle cx="1068.8" cy="546.3" r="4.75"/>
<circle cx="1073.8" cy="546.7" r="4.75"/>
<circle cx="1078.7" cy="547.1" r="4.75"/>
<circle cx="1083.7" cy="547.5" r="4.75"/>
<circle cx="1088.6" cy="547.7" r="4.75"/>
<circle cx="1093.6" cy="547.8" r="4.75"/>
<circle cx="1098.5" cy="548.0" r="4.75"/>
<circle cx="1103.5" cy="548.0" r="4.75"/>
<circle cx="1108.4" cy="547.9" r="4.75"/>
<circle cx="1113.4" cy="547.9" r="4.75"/>
<circle cx="1118.3" cy="547.8" r="4.75"/>
<circle cx="1123.3" cy="547.8" r="4.75"/>
<circle cx="1128.2" cy="547.7" r="4.75"/>
<circle cx="1133.2" cy="547.7" r="4.75"/>
<circle cx="1138.1" cy="547.6" r="4.75"/>
<circle cx="1143.1" cy="547.6" r="4.75"/>
<circle cx="1148.0" cy="547.5" r="4.75"/>
<circle cx="1153.0" cy="547.4" r="4.75"/>
<circle cx="1157.9" cy="547.2" r="4.75"/>
<circle cx="1162.9" cy="547.0" r="4.75"/>
<circle cx="1167.8" cy="546.9" r="4.75"/>
<circle cx="1172.8" cy="546.7" r="4.75"/>
<circle cx="1177.7" cy="546.5" r="4.75"/>
<circle cx="1182.7" cy="546.3" r="4.75"/>
<circle cx="1187.6" cy="546.1" r="4.75"/>
<circle cx="1192.6" cy="546.0" r="4.75"/>
<circle cx="1197.5" cy="545.8" r="4.75"/>
<circle cx="1202.5" cy="545.6" r="4.75"/>
<circle cx="1207.4" cy="545.3" r="4.75"/>
<circle cx="1212.4" cy="545.0" r="4.75"/>
<circle cx="1217.3" cy="544.7" r="4.75"/>
<circle cx="1222.3" cy="544.4" r="4.75"/>
<circle cx="1227.2" cy="544.0" r="4.75"/>
<circle cx="1230.0" cy="542.6" r="4.75"/>
<circle cx="1232.5" cy="544.8" r="4.75"/>
<circle cx="1235.0" cy="542.5" r="4.75"/>
<circle cx="1237.5" cy="544.6" r="4.75"/>
<circle cx="1240.0" cy="542.3" r="4.75"/>
<circle cx="1242.5" cy="544.3" r="4.75"/>
<circle cx="1245.0" cy="541.9" r="4.75"/>
<circle cx="1247.5" cy="543.9" r="4.75"/>
<circle cx="1250.0" cy="541.5" r="4.75"/>
<circle cx="1252.5" cy="543.5" r="4.75"/>
<circle cx="1255.0" cy="541.1" r="4.75"/>
<circle cx="1257.5" cy="543.0" r="4.75"/>
<circle cx="1260.0" cy="540.5" r="4.75"/>
<circle cx="1262.5" cy="542.5" r="4.75"/>
<circle cx="1265.0" cy="540.0" r="4.75"/>
<circle cx="1267.5" cy="541.9" r="4.75"/>
<circle cx="1270.0" cy="539.4" r="4.75"/>
<circle cx="1272.5" cy="541.1" r="4.75"/>
<circle cx="1275.0" cy="538.5" r="4.75"/>
<circle cx="1277.5" cy="540.2" r="4.75"/>
<circle cx="1280.0" cy="537.6" r="4.75"/>
<circle cx="1282.5" cy="539.4" r="4.75"/>
<circle cx="1285.0" cy="536.7" r="4.75"/>
<circle cx="1287.5" cy="538.1" r="4.75"/>
<circle cx="1290.0" cy="535.1" r="4.75"/>
<circle cx="1292.5" cy="536.3" r="4.75"/>
<circle cx="1295.0" cy="533.1" r="4.75"/>
<circle cx="1297.5" cy="534.1" r="4.75"/>
<circle cx="1300.0" cy="530.7" r="4.75"/>
<circle cx="1302.5" cy="531.4" r="4.75"/>
<circle cx="1305.0" cy="527.7" r="4.75"/>
<circle cx="1307.5" cy="528.1" r="4.75"/>
<circle cx="1310.0" cy="524.1" r="4.75"/>
<circle cx="1312.5" cy="523.6" r="4.75"/>
<circle cx="1315.0" cy="518.2" r="4.75"/>
<circle cx="1318.2" cy="513.7" r="4.75"/>
<circle cx="1322.6" cy="504.9" r="4.75"/>
<circle cx="1327.8" cy="494.9" r="4.75"/>
<circle cx="1332.2" cy="482.8" r="4.75"/>
<circle cx="1336.6" cy="468.8" r="4.75"/>
<circle cx="1341.8" cy="454.0" r="4.75"/>
<circle cx="1347.0" cy="437.8" r="4.75"/>
<circle cx="1351.4" cy="417.8" r="4.75"/>
<circle cx="1356.5" cy="402.4" r="4.75"/>
<circle cx="1361.3" cy="388.0" r="4.75"/>
<circle cx="1365.7" cy="376.5" r="4.75"/>
<circle cx="1370.6" cy="368.9" r="4.75"/>
<circle cx="1375.7" cy="364.7" r="4.75"/>
<circle cx="1380.9" cy="365.9" r="4.75"/>
<circle cx="1385.3" cy="371.4" r="4.75"/>
<circle cx="1389.7" cy="379.2" r="4.75"/>
<circle cx="1394.9" cy="388.6" r="4.75"/>
<circle cx="1399.6" cy="398.7" r="4.75"/>
<circle cx="1404.5" cy="407.5" r="4.75"/>
<circle cx="1409.6" cy="413.4" r="4.75"/>
<circle cx="1414.1" cy="416.4" r="4.75"/>
<circle cx="1418.3" cy="410.0" r="4.75"/>
<circle cx="1423.3" cy="388.2" r="4.75"/>
<circle cx="1428.2" cy="341.0" r="4.75"/>
<circle cx="1433.2" cy="276.4" r="4.75"/>
<circle cx="1437.8" cy="206.5" r="4.75"/>
<circle cx="1443.5" cy="163.4" r="4.75"/>
<circle cx="1447.9" cy="162.7" r="4.75"/>
<circle cx="1451.9" cy="188.5" r="4.75"/>
<circle cx="1456.8" cy="216.5" r="4.75"/>
<circle cx="1461.7" cy="238.3" r="4.75"/>
<circle cx="1466.7" cy="265.3" r="4.75"/>
<circle cx="1471.5" cy="305.0" r="4.75"/>
<circle cx="1476.1" cy="350.7" r="4.75"/>
<circle cx="1481.1" cy="392.3" r="4.75"/>
<circle cx="1486.0" cy="424.0" r="4.75"/>
<circle cx="1490.4" cy="446.3" r="4.75"/>
<circle cx="1495.5" cy="463.5" r="4.75"/>
<circle cx="1500.6" cy="474.6" r="4.75"/>
<circle cx="1505.1" cy="479.0" r="4.75"/>
<circle cx="1509.5" cy="469.4" r="4.75"/>
<circle cx="1514.7" cy="443.6" r="4.75"/>
<circle cx="1519.1" cy="403.2" r="4.75"/>
<circle cx="1524.0" cy="361.2" r="4.75"/>
<circle cx="1528.7" cy="338.3" r="4.75"/>
<circle cx="1533.4" cy="345.0" r="4.75"/>
<circle cx="1538.3" cy="369.3" r="4.75"/>
<circle cx="1542.7" cy="393.7" r="4.75"/>
<circle cx="1548.1" cy="412.8" r="4.75"/>
<circle cx="1553.0" cy="432.5" r="4.75"/>
<circle cx="1557.4" cy="459.1" r="4.75"/>
<circle cx="1562.6" cy="487.8" r="4.75"/>
<circle cx="1567.0" cy="511.6" r="4.75"/>
<circle cx="1571.8" cy="527.2" r="4.75"/>
<circle cx="1576.4" cy="535.0" r="4.75"/>
<circle cx="1580.0" cy="540.8" r="4.75"/>
<circle cx="1585.0" cy="541.3" r="4.75"/>
<circle cx="1589.9" cy="541.8" r="4.75"/>
<circle cx="1594.9" cy="542.4" r="4.75"/>
<circle cx="1599.8" cy="542.9" r="4.75"/>
<circle cx="1604.8" cy="543.1" r="4.75"/>
<circle cx="1609.7" cy="543.2" r="4.75"/>
<circle cx="1614.7" cy="543.4" r="4.75"/>
<circle cx="1619.6" cy="543.5" r="4.75"/>
<circle cx="1624.6" cy="543.7" r="4.75"/>
<circle cx="1629.5" cy="543.8" r="4.75"/>
<circle cx="1634.5" cy="544.0" r="4.75"/>
<circle cx="1639.4" cy="544.2" r="4.75"/>
<circle cx="1644.4" cy="544.3" r="4.75"/>
<circle cx="1649.3" cy="544.5" r="4.75"/>
<circle cx="1654.3" cy="544.7" r="4.75"/>
<circle cx="1659.2" cy="544.9" r="4.75"/>
<circle cx="1664.2" cy="545.1" r="4.75"/>
<circle cx="1669.1" cy="545.3" r="4.75"/>
<circle cx="1674.1" cy="545.5" r="4.75"/>
<circle cx="1679.0" cy="545.7" r="4.75"/>
<circle cx="1684.0" cy="545.9" r="4.75"/>
<circle cx="1688.9" cy="546.1" r="4.75"/>
<circle cx="1693.9" cy="546.3" r="4.75"/>
<circle cx="1698.8" cy="546.5" r="4.75"/>
<circle cx="1703.8" cy="546.7" r="4.75"/>
<circle cx="1708.7" cy="546.7" r="4.75"/>
<circle cx="1713.7" cy="546.8" r="4.75"/>
<circle cx="1718.6" cy="546.8" r="4.75"/>
<circle cx="1723.6" cy="546.9" r="4.75"/>
<circle cx="1728.5" cy="547.0" r="4.75"/>
<circle cx="1733.5" cy="547.0" r="4.75"/>
<circle cx="1738.4" cy="547.1" r="4.75"/>
<circle cx="1738.6" cy="547.1" r="4.75"/>
</g>
<g fill="#00c800" fill-opacity="0.55">
<circle cx="948.2" cy="548.4" r="1.15"/>
<circle cx="953.2" cy="548.4" r="1.15"/>
<circle cx="958.1" cy="548.4" r="1.15"/>
<circle cx="963.1" cy="548.4" r="1.15"/>
<circle cx="968.0" cy="548.4" r="1.15"/>
<circle cx="973.0" cy="548.4" r="1.15"/>
<circle cx="977.9" cy="548.4" r="1.15"/>
<circle cx="982.9" cy="548.4" r="1.15"/>
<circle cx="987.8" cy="548.4" r="1.15"/>
<circle cx="992.8" cy="548.4" r="1.15"/>
<circle cx="997.7" cy="548.4" r="1.15"/>
<circle cx="1002.7" cy="548.4" r="1.15"/>
<circle cx="1007.6" cy="548.4" r="1.15"/>
<circle cx="1012.6" cy="548.4" r="1.15"/>
<circle cx="1017.5" cy="548.4" r="1.15"/>
<circle cx="1022.5" cy="548.4" r="1.15"/>
<circle cx="1027.4" cy="548.4" r="1.15"/>
<circle cx="1032.4" cy="548.4" r="1.15"/>
<circle cx="1037.3" cy="548.4" r="1.15"/>
<circle cx="1042.3" cy="548.4" r="1.15"/>
<circle cx="1047.2" cy="548.4" r="1.15"/>
<circle cx="1052.2" cy="548.4" r="1.15"/>
<circle cx="1057.1" cy="548.4" r="1.15"/>
<circle cx="1062.1" cy="548.4" r="1.15"/>
<circle cx="1067.0" cy="548.4" r="1.15"/>
<circle cx="1072.0" cy="548.4" r="1.15"/>
<circle cx="1076.9" cy="548.4" r="1.15"/>
<circle cx="1081.9" cy="548.4" r="1.15"/>
<circle cx="1086.8" cy="548.4" r="1.15"/>
<circle cx="1091.8" cy="548.4" r="1.15"/>
<circle cx="1096.7" cy="548.4" r="1.15"/>
<circle cx="1101.7" cy="548.4" r="1.15"/>
<circle cx="1106.6" cy="548.4" r="1.15"/>
<circle cx="1111.6" cy="548.4" r="1.15"/>
<circle cx="1116.5" cy="548.4" r="1.15"/>
<circle cx="1121.5" cy="548.4" r="1.15"/>
<circle cx="1126.4" cy="548.4" r="1.15"/>
<circle cx="1131.4" cy="548.4" r="1.15"/>
<circle cx="1136.3" cy="548.4" r="1.15"/>
<circle cx="1141.3" cy="548.4" r="1.15"/>
<circle cx="1146.2" cy="548.4" r="1.15"/>
<circle cx="1151.2" cy="548.4" r="1.15"/>
<circle cx="1156.1" cy="548.4" r="1.15"/>
<circle cx="1161.1" cy="548.4" r="1.15"/>
<circle cx="1166.0" cy="548.4" r="1.15"/>
<circle cx="1171.0" cy="548.4" r="1.15"/>
<circle cx="1175.9" cy="548.4" r="1.15"/>
<circle cx="1180.9" cy="548.4" r="1.15"/>
<circle cx="1185.8" cy="548.4" r="1.15"/>
<circle cx="1190.8" cy="548.4" r="1.15"/>
<circle cx="1195.7" cy="548.4" r="1.15"/>
<circle cx="1200.7" cy="548.4" r="1.15"/>
<circle cx="1205.6" cy="548.4" r="1.15"/>
<circle cx="1210.6" cy="548.4" r="1.15"/>
<circle cx="1215.5" cy="548.4" r="1.15"/>
<circle cx="1220.5" cy="548.4" r="1.15"/>
<circle cx="1225.4" cy="548.4" r="1.15"/>
<circle cx="1230.4" cy="548.4" r="1.15"/>
<circle cx="1235.3" cy="548.4" r="1.15"/>
<circle cx="1240.3" cy="548.4" r="1.15"/>
<circle cx="1245.2" cy="548.4" r="1.15"/>
<circle cx="1250.2" cy="548.4" r="1.15"/>
<circle cx="1255.1" cy="548.4" r="1.15"/>
<circle cx="1260.1" cy="548.4" r="1.15"/>
<circle cx="1265.0" cy="548.4" r="1.15"/>
<circle cx="1270.0" cy="548.4" r="1.15"/>
<circle cx="1274.9" cy="548.4" r="1.15"/>
<circle cx="1279.9" cy="548.4" r="1.15"/>
<circle cx="1284.8" cy="548.4" r="1.15"/>
<circle cx="1289.8" cy="548.4" r="1.15"/>
<circle cx="1294.7" cy="548.4" r="1.15"/>
<circle cx="1299.7" cy="548.4" r="1.15"/>
<circle cx="1304.6" cy="548.4" r="1.15"/>
<circle cx="1309.6" cy="548.4" r="1.15"/>
<circle cx="1314.5" cy="548.4" r="1.15"/>
<circle cx="1319.5" cy="548.4" r="1.15"/>
<circle cx="1324.4" cy="548.4" r="1.15"/>
<circle cx="1329.4" cy="548.4" r="1.15"/>
<circle cx="1334.3" cy="548.4" r="1.15"/>
<circle cx="1339.3" cy="548.4" r="1.15"/>
<circle cx="1344.2" cy="548.4" r="1.15"/>
<circle cx="1349.2" cy="548.4" r="1.15"/>
<circle cx="1354.1" cy="548.4" r="1.15"/>
<circle cx="1359.1" cy="548.4" r="1.15"/>
<circle cx="1364.0" cy="548.4" r="1.15"/>
<circle cx="1369.0" cy="548.4" r="1.15"/>
<circle cx="1373.9" cy="548.4" r="1.15"/>
<circle cx="1378.9" cy="548.4" r="1.15"/>
<circle cx="1383.8" cy="548.4" r="1.15"/>
<circle cx="1388.8" cy="548.4" r="1.15"/>
<circle cx="1393.7" cy="548.4" r="1.15"/>
<circle cx="1398.7" cy="548.4" r="1.15"/>
<circle cx="1403.6" cy="548.4" r="1.15"/>
<circle cx="1408.6" cy="548.4" r="1.15"/>
<circle cx="1413.5" cy="548.4" r="1.15"/>
<circle cx="1418.5" cy="548.4" r="1.15"/>
<circle cx="1423.4" cy="548.4" r="1.15"/>
<circle cx="1428.4" cy="548.4" r="1.15"/>
<circle cx="1433.3" cy="548.4" r="1.15"/>
<circle cx="1438.3" cy="548.4" r="1.15"/>
<circle cx="1443.2" cy="548.4" r="1.15"/>
<circle cx="1448.2" cy="548.4" r="1.15"/>
<circle cx="1453.1" cy="548.4" r="1.15"/>
<circle cx="1458.1" cy="548.4" r="1.15"/>
<circle cx="1463.0" cy="548.4" r="1.15"/>
<circle cx="1468.0" cy="548.4" r="1.15"/>
<circle cx="1472.9" cy="548.4" r="1.15"/>
<circle cx="1477.9" cy="548.4" r="1.15"/>
<circle cx="1482.8" cy="548.4" r="1.15"/>
<circle cx="1487.8" cy="548.4" r="1.15"/>
<circle cx="1492.7" cy="548.4" r="1.15"/>
<circle cx="1497.7" cy="548.4" r="1.15"/>
<circle cx="1502.6" cy="548.4" r="1.15"/>
<circle cx="1507.6" cy="548.4" r="1.15"/>
<circle cx="1512.5" cy="548.4" r="1.15"/>
<circle cx="1517.5" cy="548.4" r="1.15"/>
<circle cx="1522.4" cy="548.4" r="1.15"/>
<circle cx="1527.4" cy="548.4" r="1.15"/>
<circle cx="1532.3" cy="548.4" r="1.15"/>
<circle cx="1537.3" cy="548.4" r="1.15"/>
<circle cx="1542.2" cy="548.4" r="1.15"/>
<circle cx="1547.2" cy="548.4" r="1.15"/>
<circle cx="1552.1" cy="548.4" r="1.15"/>
<circle cx="1557.1" cy="548.4" r="1.15"/>
<circle cx="1562.0" cy="548.4" r="1.15"/>
<circle cx="1567.0" cy="548.4" r="1.15"/>
<circle cx="1571.9" cy="548.4" r="1.15"/>
<circle cx="1576.9" cy="548.4" r="1.15"/>
<circle cx="1581.8" cy="548.4" r="1.15"/>
<circle cx="1586.8" cy="548.4" r="1.15"/>
<circle cx="1591.7" cy="548.4" r="1.15"/>
<circle cx="1596.7" cy="548.4" r="1.15"/>
<circle cx="1601.6" cy="548.4" r="1.15"/>
<circle cx="1606.6" cy="548.4" r="1.15"/>
<circle cx="1611.5" cy="548.4" r="1.15"/>
<circle cx="1616.5" cy="548.4" r="1.15"/>
<circle cx="1621.4" cy="548.4" r="1.15"/>
<circle cx="1626.4" cy="548.4" r="1.15"/>
<circle cx="1631.3" cy="548.4" r="1.15"/>
<circle cx="1636.3" cy="548.4" r="1.15"/>
<circle cx="1641.2" cy="548.4" r="1.15"/>
<circle cx="1646.2" cy="548.4" r="1.15"/>
<circle cx="1651.1" cy="548.4" r="1.15"/>
<circle cx="1656.1" cy="548.4" r="1.15"/>
<circle cx="1661.0" cy="548.4" r="1.15"/>
<circle cx="1666.0" cy="548.4" r="1.15"/>
<circle cx="1670.9" cy="548.4" r="1.15"/>
<circle cx="1675.9" cy="548.4" r="1.15"/>
<circle cx="1680.8" cy="548.4" r="1.15"/>
<circle cx="1685.8" cy="548.4" r="1.15"/>
<circle cx="1690.7" cy="548.4" r="1.15"/>
<circle cx="1695.7" cy="548.4" r="1.15"/>
<circle cx="1700.6" cy="548.4" r="1.15"/>
<circle cx="1705.6" cy="548.4" r="1.15"/>
<circle cx="1710.5" cy="548.4" r="1.15"/>
<circle cx="1715.5" cy="548.4" r="1.15"/>
<circle cx="1720.4" cy="548.4" r="1.15"/>
<circle cx="1725.4" cy="548.4" r="1.15"/>
<circle cx="1730.3" cy="548.4" r="1.15"/>
<circle cx="1735.3" cy="548.4" r="1.15"/>
<circle cx="1740.2" cy="548.4" r="1.15"/>
</g>
</g>
<line x1="64.8" y1="722" x2="64.8" y2="735" stroke="#000" stroke-width="4.5" stroke-linecap="round"/>
<text transform="translate(64.8,776) scale(1,1.045)" font-size="41" text-anchor="middle" font-family="'Liberation Sans', Arial, sans-serif" font-weight="bold">30</text>
<line x1="342.4" y1="722" x2="342.4" y2="735" stroke="#000" stroke-width="4.5" stroke-linecap="round"/>
<text transform="translate(342.4,776) scale(1,1.045)" font-size="41" text-anchor="middle" font-family="'Liberation Sans', Arial, sans-serif" font-weight="bold">31</text>
<line x1="619.9" y1="722" x2="619.9" y2="735" stroke="#000" stroke-width="4.5" stroke-linecap="round"/>
<text transform="translate(619.9,776) scale(1,1.045)" font-size="41" text-anchor="middle" font-family="'Liberation Sans', Arial, sans-serif" font-weight="bold">32</text>
<line x1="897.5" y1="722" x2="897.5" y2="735" stroke="#000" stroke-width="4.5" stroke-linecap="round"/>
<text transform="translate(897.5,776) scale(1,1.045)" font-size="41" text-anchor="middle" font-family="'Liberation Sans', Arial, sans-serif" font-weight="bold">33</text>
<line x1="203.6" y1="722" x2="203.6" y2="729" stroke="#000" stroke-width="4.5" stroke-linecap="round"/>
<line x1="481.2" y1="722" x2="481.2" y2="729" stroke="#000" stroke-width="4.5" stroke-linecap="round"/>
<line x1="758.7" y1="722" x2="758.7" y2="729" stroke="#000" stroke-width="4.5" stroke-linecap="round"/>
<line x1="947.5" y1="720.8" x2="947.5" y2="733.8" stroke="#000" stroke-width="4.5" stroke-linecap="round"/>
<text transform="translate(947.5,776) scale(1,1.045)" font-size="41" text-anchor="middle" font-family="'Liberation Sans', Arial, sans-serif" font-weight="bold">30</text>
<line x1="1213.7" y1="720.8" x2="1213.7" y2="733.8" stroke="#000" stroke-width="4.5" stroke-linecap="round"/>
<text transform="translate(1213.7,776) scale(1,1.045)" font-size="41" text-anchor="middle" font-family="'Liberation Sans', Arial, sans-serif" font-weight="bold">31</text>
<line x1="1480.0" y1="720.8" x2="1480.0" y2="733.8" stroke="#000" stroke-width="4.5" stroke-linecap="round"/>
<text transform="translate(1480.0,776) scale(1,1.045)" font-size="41" text-anchor="middle" font-family="'Liberation Sans', Arial, sans-serif" font-weight="bold">32</text>
<line x1="1746.2" y1="720.8" x2="1746.2" y2="733.8" stroke="#000" stroke-width="4.5" stroke-linecap="round"/>
<text transform="translate(1746.2,776) scale(1,1.045)" font-size="41" text-anchor="middle" font-family="'Liberation Sans', Arial, sans-serif" font-weight="bold">33</text>
<line x1="1080.6" y1="720.8" x2="1080.6" y2="727.8" stroke="#000" stroke-width="4.5" stroke-linecap="round"/>
<line x1="1346.8" y1="720.8" x2="1346.8" y2="727.8" stroke="#000" stroke-width="4.5" stroke-linecap="round"/>
<line x1="1613.1" y1="720.8" x2="1613.1" y2="727.8" stroke="#000" stroke-width="4.5" stroke-linecap="round"/>
<g transform="translate(726.80,112.20) scale(1.0)"><use href="#st" fill="#000"/><use href="#sl" fill="#fff" opacity="0.9"/></g>
<circle cx="726.8" cy="162.5" r="4.75" fill="#ff0000"/>
<circle cx="726.8" cy="213.0" r="1.15" fill="#00c800" fill-opacity="0.55"/>
<line x1="721.5" y1="264" x2="731.7" y2="264" stroke="#6f6fff" stroke-width="2.2"/>
<line x1="726.8" y1="300.0" x2="726.8" y2="330.0" stroke="#ff19ff" stroke-width="3" stroke-linecap="round"/>
<line x1="726.8" y1="350.5" x2="726.8" y2="380.5" stroke="#10107f" stroke-width="3" stroke-linecap="round"/>
<line x1="726.8" y1="401.0" x2="726.8" y2="431.0" stroke="#8a1aff" stroke-width="3" stroke-linecap="round"/>
<text x="765" y="123.5" font-size="40.5" font-family="'Liberation Sans', Arial, sans-serif" font-weight="bold">Obs</text>
<text x="765" y="173.8" font-size="40.5" font-family="'Liberation Sans', Arial, sans-serif" font-weight="bold">Calc</text>
<text x="765" y="224.3" font-size="40.5" font-family="'Liberation Sans', Arial, sans-serif" font-weight="bold">bckgr</text>
<text x="765" y="274.8" font-size="40.5" font-family="'Liberation Sans', Arial, sans-serif" font-weight="bold">diff</text>
<text x="765" y="325.3" font-size="40.5" font-family="'Liberation Sans', Arial, sans-serif" font-weight="bold">R3c</text>
<text x="765" y="375.8" font-size="40.5" font-family="'Liberation Sans', Arial, sans-serif" font-weight="bold">P4mm</text>
<text x="765" y="426.3" font-size="40.5" font-family="'Liberation Sans', Arial, sans-serif" font-weight="bold">Fd3m</text>
<g transform="translate(1591.70,121.90) scale(1.0)"><use href="#st" fill="#000"/><use href="#sl" fill="#fff" opacity="0.9"/></g>
<circle cx="1591.7" cy="171.8" r="4.75" fill="#ff0000"/>
<circle cx="1591.7" cy="222.3" r="1.15" fill="#00c800" fill-opacity="0.55"/>
<line x1="1583.8" y1="272.9" x2="1599.3" y2="272.9" stroke="#6f6fff" stroke-width="2.2"/>
<line x1="1591.7" y1="308.29999999999995" x2="1591.7" y2="338.29999999999995" stroke="#ff2eff" stroke-width="3" stroke-linecap="round"/>
<line x1="1591.7" y1="358.79999999999995" x2="1591.7" y2="388.79999999999995" stroke="#1e1e8c" stroke-width="3" stroke-linecap="round"/>
<line x1="1591.7" y1="409.29999999999995" x2="1591.7" y2="439.29999999999995" stroke="#8c33ff" stroke-width="3" stroke-linecap="round"/>
<text x="1627.5" y="131.9" font-size="39.3" font-family="'Liberation Sans', Arial, sans-serif" font-weight="bold">Obs</text>
<text x="1627.5" y="182.4" font-size="39.3" font-family="'Liberation Sans', Arial, sans-serif" font-weight="bold">Calc</text>
<text x="1627.5" y="232.9" font-size="39.3" font-family="'Liberation Sans', Arial, sans-serif" font-weight="bold">bckgr</text>
<text x="1627.5" y="283.4" font-size="39.3" font-family="'Liberation Sans', Arial, sans-serif" font-weight="bold">diff</text>
<text x="1627.5" y="333.9" font-size="39.3" font-family="'Liberation Sans', Arial, sans-serif" font-weight="bold">R3c</text>
<text x="1627.5" y="384.4" font-size="39.3" font-family="'Liberation Sans', Arial, sans-serif" font-weight="bold">P4mm</text>
<text x="1627.5" y="434.9" font-size="39.3" font-family="'Liberation Sans', Arial, sans-serif" font-weight="bold">Fd3m</text>
<text transform="translate(88.2,145.2) scale(1,1.042)" font-size="44" font-family="'Liberation Sans', Arial, sans-serif" font-weight="bold">x=0.10</text>
<text transform="translate(966.7,141.6) scale(1,1.05)" font-size="38.9" font-family="'Liberation Sans', Arial, sans-serif" font-weight="bold">x=0.30</text>
<text transform="translate(61.3,44.3) scale(1,1.03)" font-size="56" font-family="'Liberation Sans', Arial, sans-serif" font-weight="bold">(a)</text>
<text transform="translate(949.9,44.0) scale(1,1.0)" font-size="57" font-family="'Liberation Sans', Arial, sans-serif" font-weight="bold">(b)</text>
<rect x="343.8" y="770.95" width="8.2" height="5.6" fill="#fff"/>
<rect x="358.0" y="770.95" width="8.0" height="5.6" fill="#fff"/>
<rect x="1214.6" y="770.95" width="8.4" height="5.6" fill="#fff"/>
<rect x="1229.0" y="770.95" width="8.4" height="5.6" fill="#fff"/>
<rect x="176.6" y="139.3" width="8.4" height="6.3" fill="#fbfbfb"/>
<rect x="191.0" y="139.3" width="9.4" height="6.3" fill="#fbfbfb"/>
<text transform="translate(47.0,643.5) rotate(-90)" font-size="60" font-family="'Liberation Sans', Arial, sans-serif" font-weight="bold">Intensity (a.u)</text>
<text y="864.4" font-size="60" font-family="'Liberation Sans', Arial, sans-serif" font-weight="bold"><tspan x="764.5">2</tspan><tspan x="798.3" font-family="'DejaVu Serif', serif" font-weight="normal" font-size="55">θ</tspan><tspan x="846.8"> </tspan><tspan x="846.8">(degree)</tspan></text>
</svg>
</body></html>
